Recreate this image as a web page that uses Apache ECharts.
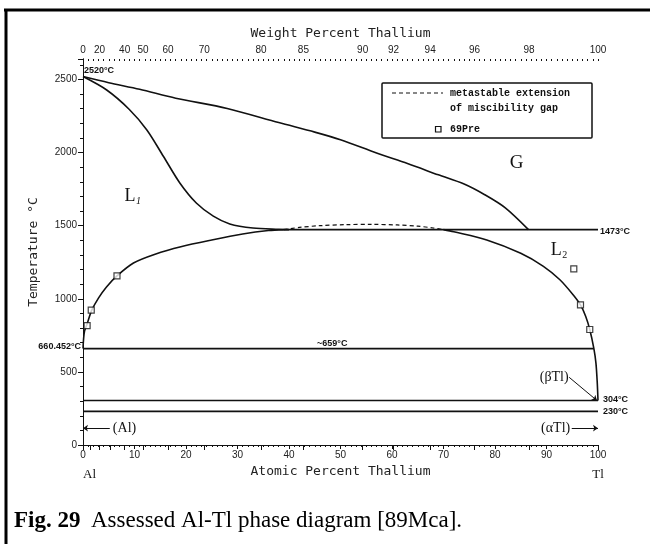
<!DOCTYPE html>
<html>
<head>
<meta charset="utf-8">
<script src="https://cdn.jsdelivr.net/npm/echarts@6/dist/echarts.min.js"></script>
<style>
  html, body { margin: 0; padding: 0; background: #fff; }
  #chart { width: 650px; height: 544px; }
</style>
</head>
<body>
<div id="chart"></div>
<script>
// Al-Tl phase diagram: temperature (°C) versus atomic percent thallium.

// Invariant temperatures (°C)
const boilAl = 2520;
const boilTl = 1473;
const meltAl = 660.452;
const monotectic = 659;
const meltTl = 304;
const transTl = 230;

// Axis ticks
const tempTicks = [0, 500, 1000, 1500, 2000, 2500];
const weightTicks = [0, 10, 20, 30, 40, 50, 60, 70, 80, 85, 90, 92, 94, 96, 98, 100];
const weightLabels = [0, 20, 40, 50, 60, 70, 80, 85, 90, 92, 94, 96, 98, 100];

// Gas boundary (upper curve) [at.% Tl, °C]
const gasCurve = [[0, boilAl], [5, 2478], [11, 2433], [18, 2372], [28, 2302], [38, 2205],
  [45, 2140], [50, 2088], [57, 1997], [63, 1925], [69, 1848], [74, 1785], [78, 1712],
  [82, 1622], [86.5, boilTl]];

// Liquid L1 boundary under the gas field
const liquidCurve = [[0, boilAl], [4.6, 2428], [9, 2295], [12.4, 2155], [15.6, 1975], [18.8, 1792],
  [22, 1655], [25.3, 1565], [28.5, 1512], [33, 1484], [38, 1475], [40, boilTl]];

// Miscibility gap, Al-rich side
const gapLeft = [[0, meltAl], [0.1, 720], [0.3, 780], [0.8, 828], [1.7, 922], [3, 1005], [4.6, 1083],
  [6.6, 1157], [9.8, 1245], [14, 1305], [19, 1356], [25, 1402], [31, 1443], [36, 1467], [39, boilTl]];

// Metastable extension of the miscibility gap
const gapMetastable = [[39, boilTl], [42, 1488], [46, 1500], [51, 1507], [56, 1509], [61, 1505],
  [65, 1497], [68, 1484], [70, boilTl]];

// Miscibility gap and liquidus, Tl-rich side
const gapRight = [[70, boilTl], [72, 1458], [78.4, 1402], [85, 1311], [89.4, 1222], [92.6, 1130],
  [95.2, 1026], [96.6, 958], [97.6, 880], [98.4, 790], [99.2, monotectic], [99.6, 560],
  [99.85, 430], [100, meltTl]];

// Horizontal invariant lines [from at.%, to at.%, °C]
const invariantLines = [[39, 100, boilTl], [0, 99.2, monotectic], [0, 100, meltTl], [0, 100, transTl]];

// Experimental points [69Pre]
const pointsPre = [[0.8, 816], [1.6, 923], [6.6, 1157], [95.3, 1204], [96.6, 958], [98.4, 790]];

// Weight percent -> atomic percent Tl
const M_AL = 26.9815, M_TL = 204.383;
function wtToAt(w) {
  if (w >= 100) return 100;
  const a = w / M_TL, b = (100 - w) / M_AL;
  return 100 * a / (a + b);
}

const INK = '#111';
const lineStyle = { color: INK, width: 1.6 };
const tickFont = { fontFamily: 'Liberation Sans', fontSize: 10, color: '#222' };
const titleFont = { fontFamily: 'DejaVu Sans Mono', fontSize: 13, color: '#222' };

function curve(name, data, extra) {
  return Object.assign({
    name, type: 'line', data, showSymbol: false, symbol: 'none', smooth: 0.3,
    lineStyle: Object.assign({}, lineStyle), z: 3, silent: true
  }, extra || {});
}

const series = [
  curve('gas', gasCurve),
  curve('liquid', liquidCurve),
  curve('gapLeft', gapLeft),
  curve('gapRight', gapRight),
  curve('metastable', gapMetastable, { lineStyle: { color: INK, width: 1.2, type: [4, 3] } })
];
invariantLines.forEach((l, i) => {
  series.push(curve('inv' + i, [[l[0], l[2]], [l[1], l[2]]], { smooth: false }));
});
series.push({
  name: '69Pre', type: 'scatter', data: pointsPre, symbol: 'rect', symbolSize: 6, z: 5,
  itemStyle: { color: '#fff', borderColor: INK, borderWidth: 1.2 }, silent: true
});
// Phase arrows
series.push({
  type: 'lines', coordinateSystem: 'cartesian2d', z: 4, silent: true,
  symbol: ['none', 'arrow'], symbolSize: 5,
  lineStyle: { color: INK, width: 1, opacity: 1 },
  data: [
    { coords: [[5.2, 115], [0, 115]] },
    { coords: [[94.9, 115], [100, 115]] },
    { coords: [[94.4, 463], [99.8, meltTl]] }
  ]
});

const chart = echarts.init(document.getElementById('chart'), null, { renderer: 'canvas' });

chart.setOption({
  animation: false,
  backgroundColor: '#fff',
  grid: { left: 83, right: 52, top: 59, bottom: 99, containLabel: false, outerBoundsMode: 'none' },
  xAxis: [
    {
      type: 'value', min: 0, max: 100, interval: 10, position: 'bottom',
      name: 'Atomic Percent Thallium', nameLocation: 'middle', nameGap: 13,
      nameTextStyle: titleFont,
      axisLine: { show: true, lineStyle: { color: INK, width: 1 } },
      axisTick: { show: true, length: 4, lineStyle: { color: INK } },
      minorTick: { show: true, splitNumber: 10, length: 2, lineStyle: { color: INK } },
      axisLabel: Object.assign({ margin: 5, formatter: v => String(v) }, tickFont),
      splitLine: { show: false }
    },
    {
      type: 'value', min: 0, max: 100, interval: 10, position: 'top',
      name: 'Weight Percent Thallium', nameLocation: 'middle', nameGap: 19,
      nameTextStyle: titleFont,
      axisLine: { show: true, lineStyle: { color: INK, width: 1 } },
      axisTick: { show: true, inside: true, length: 5, customValues: weightTicks.map(wtToAt), lineStyle: { color: INK } },
      axisLabel: Object.assign({
        margin: 4,
        customValues: weightLabels.map(wtToAt),
        formatter: v => {
          const w = weightLabels.find(x => Math.abs(wtToAt(x) - v) < 1e-6);
          return w === undefined ? '' : String(w);
        }
      }, tickFont),
      splitLine: { show: false }
    },
    {
      // fine tick marks along the top edge
      type: 'value', min: 0, max: 100, interval: 10, position: 'top',
      axisLine: { show: false },
      axisTick: { show: true, inside: true, length: 2, lineStyle: { color: INK } },
      minorTick: { show: true, splitNumber: 10, length: 2, lineStyle: { color: INK } },
      axisLabel: { show: false },
      splitLine: { show: false }
    }
  ],
  yAxis: [
    {
      type: 'value', min: 0, max: 2640, interval: 500, position: 'left',
      name: 'Temperature °C', nameLocation: 'middle', nameGap: 43, nameRotate: 90,
      nameTextStyle: titleFont,
      axisLine: { show: true, lineStyle: { color: INK, width: 1 } },
      axisTick: { show: true, length: 4, lineStyle: { color: INK } },
      minorTick: { show: true, splitNumber: 5, length: 2, lineStyle: { color: INK } },
      axisLabel: Object.assign({ margin: 6, customValues: tempTicks, formatter: v => String(v) }, tickFont),
      splitLine: { show: false }
    },
    {
      type: 'value', min: 0, max: 2640, interval: 500, position: 'right',
      axisLine: { show: true, lineStyle: { color: INK, width: 1 } },
      axisTick: { show: true, inside: true, length: 5, lineStyle: { color: INK } },
      minorTick: { show: true, splitNumber: 5, length: 3, lineStyle: { color: INK } },
      axisLabel: { show: false },
      splitLine: { show: false }
    }
  ],
  series
});

// Annotations placed from data coordinates
const P = p => chart.convertToPixel({ xAxisIndex: 0, yAxisIndex: 0 }, p);
function txt(pos, text, font, align, vAlign, dx, dy) {
  const p = P(pos);
  return {
    type: 'text', x: p[0] + (dx || 0), y: p[1] + (dy || 0), z: 10, silent: true,
    style: {
      text, font, fill: INK,
      align: align || 'left', verticalAlign: vAlign || 'middle',
      textAlign: align || 'left', textVerticalAlign: vAlign || 'middle'
    }
  };
}
const smallBold = 'bold 9px "Liberation Sans", Arial, sans-serif';
const serif = '"Liberation Serif", "DejaVu Serif", serif';
const legendFont = 'bold 10px "Liberation Mono", "DejaVu Sans Mono", monospace';

const g = [];
g.push(txt([0, boilAl], boilAl + '°C', smallBold, 'left', 'middle', 1, -6));
g.push(txt([100, boilTl], boilTl + '°C', smallBold, 'left', 'middle', 2, 2));
g.push(txt([0, meltAl], meltAl + '°C', smallBold, 'right', 'middle', -2, -2));
g.push(txt([48.4, monotectic], '~' + monotectic + '°C', smallBold, 'center', 'bottom', 0, -1));
g.push(txt([100, meltTl], meltTl + '°C', smallBold, 'left', 'middle', 5, -1));
g.push(txt([100, transTl], transTl + '°C', smallBold, 'left', 'middle', 5, 0));

// Phase field labels
g.push(txt([9.5, 1700], 'L', '18px ' + serif, 'center', 'middle', -2, 0));
g.push(txt([9.5, 1700], '1', 'italic 10px ' + serif, 'left', 'middle', 4, 5));
g.push(txt([92.3, 1334], 'L', '18px ' + serif, 'center', 'middle', -2, 0));
g.push(txt([92.3, 1334], '2', '10px ' + serif, 'left', 'middle', 4, 5));
g.push(txt([84.2, 1927], 'G', '19px ' + serif, 'center', 'middle'));
g.push(txt([5.8, 115], '(Al)', '14px ' + serif, 'left', 'middle'));
g.push(txt([94.6, 115], '(αTl)', '14px ' + serif, 'right', 'middle'));
g.push(txt([94.3, 463], '(βTl)', '14px ' + serif, 'right', 'middle'));

// Element symbols at the ends of the composition axis
g.push(txt([0, 0], 'Al', '13px ' + serif, 'left', 'middle', 0, 30));
g.push(txt([100, 0], 'Tl', '13px ' + serif, 'center', 'middle', 0, 30));

// Key box
g.push({ type: 'rect', shape: { x: 382, y: 83, width: 210, height: 55, r: 1 }, z: 9, silent: true,
  style: { fill: '#fff', stroke: INK, lineWidth: 1.5 } });
g.push({ type: 'line', shape: { x1: 392, y1: 93, x2: 443, y2: 93 }, z: 10, silent: true,
  style: { stroke: INK, lineWidth: 1.2, lineDash: [4, 3] } });
g.push({ type: 'text', x: 450, y: 93, z: 10, silent: true,
  style: { text: 'metastable extension', font: legendFont, fill: INK, verticalAlign: 'middle', textVerticalAlign: 'middle' } });
g.push({ type: 'text', x: 450, y: 108, z: 10, silent: true,
  style: { text: 'of miscibility gap', font: legendFont, fill: INK, verticalAlign: 'middle', textVerticalAlign: 'middle' } });
g.push({ type: 'rect', shape: { x: 435.5, y: 126.5, width: 5.5, height: 5.5 }, z: 10, silent: true,
  style: { fill: '#fff', stroke: INK, lineWidth: 1.2 } });
g.push({ type: 'text', x: 450, y: 129.5, z: 10, silent: true,
  style: { text: '69Pre', font: legendFont, fill: INK, verticalAlign: 'middle', textVerticalAlign: 'middle' } });

// Page frame
g.push({ type: 'line', shape: { x1: 4, y1: 10, x2: 650, y2: 10 }, z: 10, silent: true,
  style: { stroke: '#000', lineWidth: 3 } });
g.push({ type: 'line', shape: { x1: 6, y1: 9, x2: 6, y2: 544 }, z: 10, silent: true,
  style: { stroke: '#000', lineWidth: 3 } });

// Caption
g.push({ type: 'text', x: 14, y: 521, z: 10, silent: true,
  style: { text: 'Fig. 29', font: 'bold 23px ' + serif, fill: '#000', verticalAlign: 'middle', textVerticalAlign: 'middle' } });
g.push({ type: 'text', x: 91, y: 521, z: 10, silent: true,
  style: { text: 'Assessed Al-Tl phase diagram [89Mca].', font: '23px ' + serif, fill: '#000', verticalAlign: 'middle', textVerticalAlign: 'middle' } });

chart.setOption({ graphic: { elements: g } });
</script>
</body>
</html>
